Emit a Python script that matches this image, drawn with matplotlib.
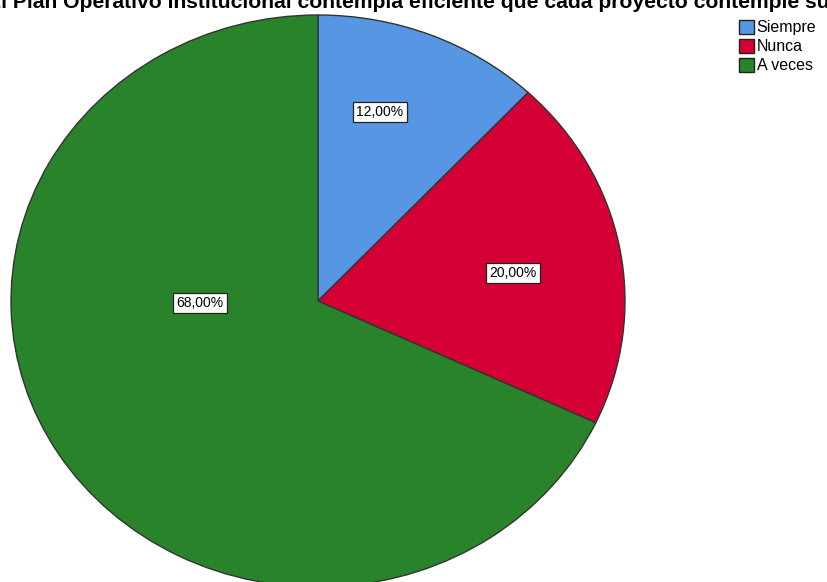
import matplotlib.pyplot as plt
from matplotlib.patches import Patch

# data
categories = ["Siempre", "Nunca", "A veces"]
percentages = [12.0, 20.0, 68.0]
colors = ["#5796E3", "#D40035", "#29832A"]
title = "El Plan Operativo Institucional contempla eficiente que cada proyecto contemple su"

# label box positions (axes data coords)
label_pos = [(0.202, 0.661), (0.635, 0.098), (-0.384, -0.007)]

plt.rcParams["font.family"] = ["Liberation Sans", "DejaVu Sans"]

fig = plt.figure(figsize=(8.27, 5.82), dpi=100)
ax = fig.add_axes([11 / 827, -5 / 582, 614 / 827, 572 / 582])

wedges, _ = ax.pie(
    percentages,
    colors=colors,
    startangle=90,
    counterclock=False,
    radius=1,
    wedgeprops=dict(edgecolor="#333333", linewidth=1.0),
)
ax.set_aspect("auto")
ax.set_xlim(-1, 1)
ax.set_ylim(-1, 1)
ax.axis("off")

for pct, (x, y) in zip(percentages, label_pos):
    ax.text(
        x, y, f"{pct:.2f}%".replace(".", ","),
        ha="center", va="center", fontsize=10,
        bbox=dict(boxstyle="square,pad=0.22", fc="white", ec="#222222", lw=0.9),
    )

# title is clipped by the figure edges in the original
fig.text(-13 / 827, 1 - 8 / 582, title, ha="left", va="baseline",
         fontsize=15.2, fontweight="bold")

handles = [Patch(facecolor=c, edgecolor="#222222", label=l) for c, l in zip(colors, categories)]
fig.legend(
    handles=handles, loc="upper left", bbox_to_anchor=(739 / 827, 1 - 20 / 582),
    frameon=False, fontsize=11.5, handlelength=0.95, handleheight=0.95,
    handletextpad=0.15, labelspacing=0.22, borderpad=0, borderaxespad=0,
)

fig.savefig("out.png", dpi=100)
